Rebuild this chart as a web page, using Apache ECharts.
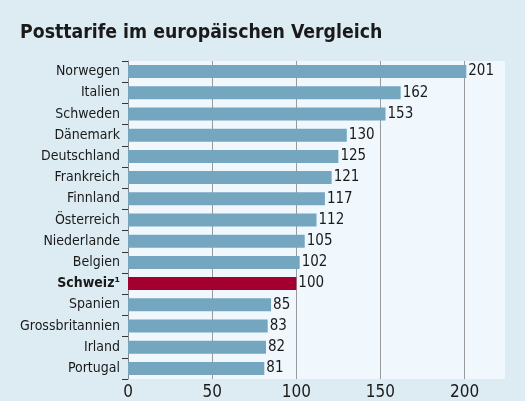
<!DOCTYPE html>
<html>
<head>
<meta charset="utf-8">
<script src="https://cdn.jsdelivr.net/npm/echarts@6/dist/echarts.min.js"></script>
<style>
  html, body { margin: 0; padding: 0; background: #ddebf3; }
  #chart { width: 525px; height: 401px; }
</style>
</head>
<body>
<div id="chart"></div>
<script>
var countries = ['Norwegen', 'Italien', 'Schweden', 'Dänemark', 'Deutschland', 'Frankreich',
  'Finnland', 'Österreich', 'Niederlande', 'Belgien', 'Schweiz¹', 'Spanien',
  'Grossbritannien', 'Irland', 'Portugal'];
var tariffs = [201, 162, 153, 130, 125, 121, 117, 112, 105, 102, 100, 85, 83, 82, 81];
var highlight = 'Schweiz¹';
var xTicks = [0, 50, 100, 150, 200];

var font = '"Liberation Sans Narrow", "DejaVu Sans Condensed", sans-serif';
var chart = echarts.init(document.getElementById('chart'));

// grid lines at 0..200, none at the axis max (224)
var gridColors = xTicks.map(function () { return '#9a9a9a'; }).concat(['rgba(0,0,0,0)']);

chart.setOption({
  backgroundColor: '#ddebf3',
  animation: false,
  title: {
    text: 'Posttarife im europäischen Vergleich',
    left: 15, top: 18,
    textStyle: { fontFamily: font, fontSize: 19.3, fontWeight: 'bold', color: '#1a1a1a' }
  },
  grid: {
    left: 128, right: 20, top: 61, bottom: 22,
    show: true, backgroundColor: '#f0f8fd', borderWidth: 0
  },
  xAxis: {
    type: 'value', min: 0, max: 224, interval: 50,
    axisLine: { show: false },
    axisTick: { show: false },
    splitLine: { lineStyle: { color: gridColors, width: 1 } },
    axisLabel: {
      fontFamily: font, fontSize: 17, color: '#1a1a1a', margin: 5,
      formatter: function (v) { return xTicks.indexOf(v) >= 0 ? String(v) : ''; },
      showMaxLabel: false
    }
  },
  yAxis: {
    type: 'category', inverse: true, data: countries,
    axisLine: { lineStyle: { color: '#888', width: 1 } },
    axisTick: { show: true, length: 6, lineStyle: { color: '#333' } },
    axisLabel: {
      fontFamily: font, fontSize: 14, color: '#1a1a1a', margin: 8,
      formatter: function (v) { return v === highlight ? '{b|' + v + '}' : v; },
      rich: { b: { fontFamily: font, fontSize: 14, fontWeight: 'bold', color: '#1a1a1a' } }
    }
  },
  series: [{
    type: 'bar',
    barWidth: 13,
    data: tariffs.map(function (v, i) {
      var hi = countries[i] === highlight;
      return {
        value: v,
        itemStyle: { color: hi ? '#a30030' : '#74a6c0' }
      };
    }),
    label: {
      show: true, position: 'right', distance: 2,
      fontFamily: font, fontSize: 15, color: '#1a1a1a'
    }
  }]
});
</script>
</body>
</html>
